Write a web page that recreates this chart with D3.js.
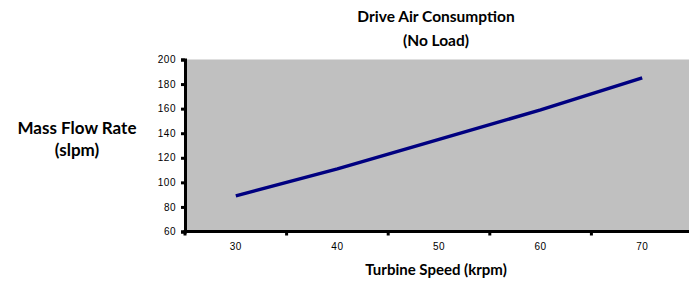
<!DOCTYPE html>
<html>
<head>
<meta charset="utf-8">
<script src="https://cdn.jsdelivr.net/npm/d3@7"></script>
<style>
  body { margin: 0; background: #fff; }
  svg { display: block; }
  .tick text { font-family: "Liberation Sans", Arial, sans-serif; font-size: 10px; fill: #000; letter-spacing: 0.5px; }
  .ttl { font-family: Lato, "Open Sans", sans-serif; font-weight: bold; font-size: 14.5px; fill: #000; }
</style>
</head>
<body>
<script>
const speeds = ["30", "40", "50", "60", "70"];
const flow = [89, 111, 135, 159, 185];
const yTicks = [60, 80, 100, 120, 140, 160, 180, 200];

const W = 689, H = 284;
const plot = { left: 185, right: 693, top: 59.5, bottom: 231.5 };

const svg = d3.select("body").append("svg").attr("width", W).attr("height", H);

const x = d3.scaleBand().domain(speeds).range([plot.left, plot.right]);
const y = d3.scaleLinear().domain([60, 200]).range([plot.bottom, plot.top]);

// plot background
svg.append("rect")
  .attr("x", plot.left).attr("y", plot.top)
  .attr("width", plot.right - plot.left).attr("height", plot.bottom - plot.top)
  .attr("fill", "#c0c0c0");

// y axis
const yAxis = svg.append("g")
  .attr("transform", `translate(${plot.left},0)`)
  .call(d3.axisLeft(y).tickValues(yTicks).tickSize(4).tickPadding(5));
yAxis.select(".domain").attr("stroke", "#000").attr("stroke-width", 3);
yAxis.selectAll(".tick line").attr("stroke", "#000").attr("stroke-width", 3);

// x axis, ticks between categories
const xAxis = svg.append("g").attr("transform", `translate(0,${plot.bottom})`);
xAxis.append("line")
  .attr("x1", plot.left - 1.5).attr("x2", plot.right)
  .attr("stroke", "#000").attr("stroke-width", 3);
const edges = speeds.map(d => x(d)).concat([plot.right]);
xAxis.selectAll("line.tk").data(edges).enter().append("line")
  .attr("class", "tk")
  .attr("x1", d => d).attr("x2", d => d)
  .attr("y1", 0).attr("y2", 4)
  .attr("stroke", "#000").attr("stroke-width", 3);
xAxis.selectAll("text").data(speeds).enter().append("text")
  .attr("x", d => x(d) + x.bandwidth() / 2)
  .attr("y", 18)
  .attr("text-anchor", "middle")
  .style("font-family", "'Liberation Sans', Arial, sans-serif")
  .style("font-size", "10px")
  .style("letter-spacing", "0.5px")
  .text(d => d);

// line
const line = d3.line()
  .x((d, i) => x(speeds[i]) + x.bandwidth() / 2)
  .y(d => y(d));
svg.append("path")
  .datum(flow)
  .attr("d", line)
  .attr("fill", "none")
  .attr("stroke", "#000080")
  .attr("stroke-width", 3.5);

// titles
svg.append("text").attr("class", "ttl").attr("x", 436).attr("y", 22)
  .attr("text-anchor", "middle").style("font-size", "15.5px").text("Drive Air Consumption");
svg.append("text").attr("class", "ttl").attr("x", 436).attr("y", 46)
  .attr("text-anchor", "middle").style("font-size", "15.5px").text("(No Load)");
svg.append("text").attr("class", "ttl").attr("x", 77).attr("y", 134)
  .attr("text-anchor", "middle").style("font-size", "17px").text("Mass Flow Rate");
svg.append("text").attr("class", "ttl").attr("x", 77).attr("y", 156)
  .attr("text-anchor", "middle").style("font-size", "17px").text("(slpm)");
svg.append("text").attr("class", "ttl").attr("x", 436).attr("y", 275)
  .attr("text-anchor", "middle").style("font-size", "15px").text("Turbine Speed (krpm)");
</script>
</body>
</html>
